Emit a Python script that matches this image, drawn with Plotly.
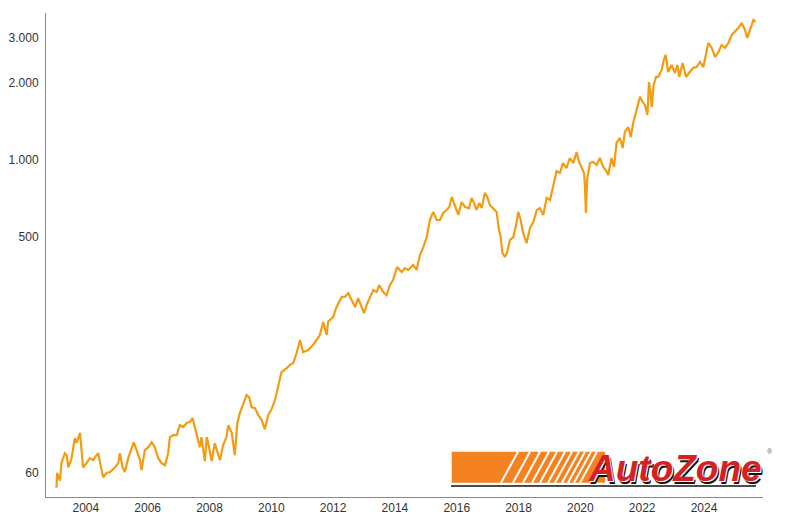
import plotly.graph_objects as go

# Decimal year and price
years = [
    2003.05, 2003.07, 2003.16, 2003.21, 2003.32, 2003.38, 2003.43, 2003.54, 2003.64, 2003.70,
    2003.81, 2003.86, 2003.91, 2004.02, 2004.13, 2004.24, 2004.29, 2004.40, 2004.45, 2004.51,
    2004.56, 2004.67, 2004.78, 2004.94, 2005.05, 2005.10, 2005.19, 2005.26, 2005.37, 2005.48,
    2005.55, 2005.64, 2005.75, 2005.80, 2005.91, 2006.02, 2006.13, 2006.23, 2006.34, 2006.45,
    2006.56, 2006.66, 2006.72, 2006.83, 2006.94, 2007.04, 2007.15, 2007.26, 2007.37, 2007.45,
    2007.58, 2007.69, 2007.74, 2007.85, 2007.91, 2007.96, 2008.07, 2008.17, 2008.27, 2008.34,
    2008.44, 2008.55, 2008.61, 2008.72, 2008.82, 2008.90, 2008.98, 2009.09, 2009.20, 2009.28,
    2009.36, 2009.47, 2009.58, 2009.69, 2009.79, 2009.90, 2010.01, 2010.12, 2010.22, 2010.33,
    2010.50, 2010.60, 2010.71, 2010.82, 2010.93, 2011.03, 2011.19, 2011.35, 2011.46, 2011.57,
    2011.68, 2011.79, 2011.84, 2012.00, 2012.11, 2012.20, 2012.28, 2012.38, 2012.49, 2012.60,
    2012.71, 2012.81, 2012.92, 2013.00, 2013.08, 2013.19, 2013.30, 2013.41, 2013.49, 2013.62,
    2013.73, 2013.84, 2013.94, 2014.07, 2014.22, 2014.32, 2014.43, 2014.59, 2014.70, 2014.81,
    2014.92, 2015.03, 2015.13, 2015.24, 2015.35, 2015.46, 2015.56, 2015.67, 2015.76, 2015.84,
    2015.94, 2016.05, 2016.16, 2016.27, 2016.40, 2016.48, 2016.56, 2016.64, 2016.73, 2016.81,
    2016.91, 2016.99, 2017.07, 2017.18, 2017.29, 2017.37, 2017.42, 2017.48, 2017.56, 2017.63,
    2017.72, 2017.83, 2017.92, 2017.99, 2018.07, 2018.15, 2018.26, 2018.37, 2018.48, 2018.59,
    2018.69, 2018.80, 2018.91, 2019.02, 2019.12, 2019.23, 2019.34, 2019.44, 2019.55, 2019.66,
    2019.77, 2019.88, 2019.96, 2020.04, 2020.12, 2020.15, 2020.18, 2020.22, 2020.31, 2020.42,
    2020.53, 2020.63, 2020.74, 2020.85, 2020.90, 2021.01, 2021.09, 2021.17, 2021.28, 2021.37,
    2021.44, 2021.55, 2021.63, 2021.71, 2021.82, 2021.93, 2022.02, 2022.09, 2022.17, 2022.22,
    2022.27, 2022.31, 2022.37, 2022.45, 2022.52, 2022.63, 2022.70, 2022.76, 2022.84, 2022.95,
    2023.06, 2023.14, 2023.20, 2023.31, 2023.42, 2023.52, 2023.65, 2023.76, 2023.87, 2023.98,
    2024.06, 2024.14, 2024.25, 2024.36, 2024.47, 2024.57, 2024.68, 2024.79, 2024.90, 2025.00,
    2025.11, 2025.22, 2025.33, 2025.40, 2025.49, 2025.60, 2025.67,
]
prices = [
    52.5, 60, 56, 65.5, 71.6, 70.4, 63, 68.5, 82, 78.5,
    86, 73.6, 63, 65.5, 68.5, 67.3, 69, 71.6, 66, 61.5,
    57.7, 60, 60.5, 63, 65.5, 71.6, 63, 60.5, 68.5, 75.6,
    79, 73.6, 67.3, 61.5, 73.6, 75.6, 79, 75.6, 68.5, 65.5,
    64.3, 71.6, 82.8, 84.3, 84.3, 92.2, 90.6, 94, 94.8, 98.3,
    86, 75.6, 82.8, 66.7, 82.8, 78.3, 66.7, 78.3, 71.5, 67.3,
    77, 82.8, 92.2, 86, 70.4, 93.8, 102.7, 112.3, 120.8, 118.6,
    108.4, 107.4, 100.9, 96.5, 88.9, 100.9, 106.5, 115.5, 128.7, 148.6,
    154, 158.2, 161, 176.3, 198.1, 178, 181.1, 189.4, 198.1, 207.3,
    232.8, 207.3, 234.2, 243.6, 266.6, 278.7, 292, 292, 302, 284,
    266.6, 289, 266.6, 252.5, 271.4, 292, 310.6, 305, 325, 305,
    297, 325, 340, 382, 365, 378, 372, 389, 372, 425.6,
    457, 500, 583, 627, 583, 583, 621, 638, 655, 717,
    667, 610, 685, 655, 649, 711, 680, 638, 680, 649,
    744, 717, 667, 649, 627, 533, 500, 433, 418, 437,
    487, 500, 557, 627, 583, 518, 474, 542, 572, 638,
    649, 610, 711, 698, 799, 904, 890, 973, 930, 1018,
    973, 1074, 982, 940, 890, 785, 621, 836, 973, 982,
    956, 1018, 940, 904, 874, 1018, 940, 1166, 1219, 1114,
    1286, 1345, 1230, 1395, 1567, 1764, 1684, 1640, 1499, 2015,
    1830, 1611, 1963, 2110, 2110, 2246, 2458, 2571, 2206, 2350,
    2187, 2350, 2110, 2393, 2110, 2187, 2290, 2307, 2414, 2307,
    2571, 2864, 2740, 2525, 2642, 2813, 2740, 2864, 3078, 3162,
    3275, 3427, 3219, 2995, 3219, 3522, 3460,
]

x_tick_vals = [2004, 2006, 2008, 2010, 2012, 2014, 2016, 2018, 2020, 2022, 2024]
x_tick_text = ["2004", "2006", "2008", "2010", "2012", "2014", "2016", "2018", "2020", "2022", "2024"]
y_tick_vals = [60, 500, 1000, 2000, 3000]
y_tick_text = ["60", "500", "1.000", "2.000", "3.000"]

LINE = "#F39C12"
FONT = "Liberation Sans, Arial, sans-serif"

fig = go.Figure()
fig.add_trace(go.Scatter(
    x=years, y=prices, mode="lines",
    line=dict(color=LINE, width=2.2), hoverinfo="x+y", showlegend=False,
))

fig.update_layout(
    width=800, height=520,
    margin=dict(l=46, r=37, t=13, b=23, autoexpand=False),
    paper_bgcolor="white", plot_bgcolor="white",
    font=dict(family=FONT, size=12, color="#333333"),
    xaxis=dict(
        range=[2002.71, 2025.91], tickmode="array", automargin=False,
        tickvals=x_tick_vals, ticktext=x_tick_text,
        showgrid=False, zeroline=False, showline=True, linecolor="#888888", linewidth=1,
        ticks="", tickfont=dict(size=12, color="#333333"),
    ),
    yaxis=dict(
        type="log", range=[1.684, 3.574], tickmode="array", automargin=False,
        tickvals=y_tick_vals, ticktext=y_tick_text,
        showgrid=False, zeroline=False, showline=True, linecolor="#888888", linewidth=1,
        ticks="", ticklabelstandoff=4, tickfont=dict(size=12, color="#333333"),
    ),
)

# AutoZone logo (decorative), paper coordinates of the plot area
def px(xp):
    return (xp - 46) / 717.0

def py(yp):
    return (497 - yp) / 484.0

shapes = []
shapes.append(dict(type="line", xref="paper", yref="paper",
                   x0=px(451), x1=px(756), y0=py(486), y1=py(486),
                   line=dict(color="#111111", width=1.5), layer="above"))
shapes.append(dict(type="rect", xref="paper", yref="paper",
                   x0=px(451.7), x1=px(605), y0=py(482.7), y1=py(451.7),
                   fillcolor="#F58220", line=dict(width=0), layer="above"))
for top in [518, 530, 540, 549, 557, 565, 572, 579, 585, 591, 597]:
    shapes.append(dict(type="line", xref="paper", yref="paper",
                       x0=px(top - 17), x1=px(top), y0=py(482.7), y1=py(451.7),
                       line=dict(color="white", width=2), layer="above"))
fig.update_layout(shapes=shapes)

fig.add_annotation(xref="paper", yref="paper", x=px(586), y=py(468.5),
                   xanchor="left", yanchor="middle", showarrow=False,
                   text="AutoZone",
                   font=dict(family=FONT, size=37, color="#D71F26", weight="bold", style="italic",
                             shadow="1px 1px 0px #ffffff, 2px 3px 0px #111111"))
fig.add_annotation(xref="paper", yref="paper", x=px(770), y=py(451),
                   xanchor="center", yanchor="middle", showarrow=False,
                   text="®", font=dict(family=FONT, size=7, color="#666666"))

fig.write_html("out.html", config={"displayModeBar": False},
               post_script="document.body.style.margin='0';document.body.style.overflow='hidden';")
